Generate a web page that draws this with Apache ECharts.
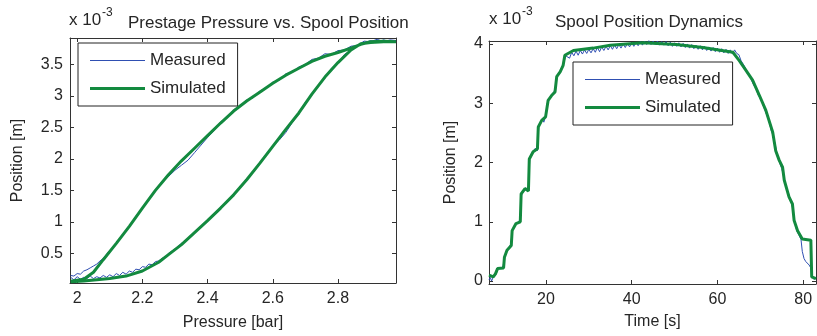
<!DOCTYPE html>
<html>
<head>
<meta charset="utf-8">
<script src="https://cdn.jsdelivr.net/npm/echarts@6/dist/echarts.min.js"></script>
<style>
  html, body { margin: 0; padding: 0; background: #fff; }
  #chart { width: 817px; height: 336px; }
</style>
</head>
<body>
<div id="chart"></div>
<script>
// Position values are in units of 1e-3 m (axis multiplier shown as "x 10^-3").

// Left panel: prestage pressure [bar] vs spool position, [pressure, position]
const loopMeasured = [
  [1.98,0.12],[1.99,0.08],[2.00,0.13],[2.01,0.09],[2.02,0.12],[2.03,0.10],[2.04,0.14],[2.05,0.10],
  [2.06,0.13],[2.07,0.11],[2.08,0.15],[2.09,0.12],[2.10,0.16],[2.11,0.13],[2.12,0.18],[2.13,0.15],
  [2.14,0.20],[2.15,0.17],[2.16,0.22],[2.17,0.20],[2.18,0.25],[2.19,0.24],[2.20,0.29],[2.21,0.28],
  [2.22,0.33],[2.23,0.32],[2.24,0.37],[2.25,0.38],[2.26,0.42],[2.27,0.44],[2.28,0.50],[2.30,0.57],
  [2.32,0.66],[2.34,0.73],[2.36,0.84],[2.38,0.92],[2.40,1.04],[2.42,1.11],[2.44,1.24],[2.46,1.31],
  [2.48,1.45],[2.50,1.54],[2.52,1.69],[2.54,1.79],[2.56,1.95],[2.58,2.05],[2.60,2.20],[2.62,2.30],
  [2.64,2.42],[2.66,2.58],[2.68,2.72],[2.70,2.90],[2.72,3.02],[2.74,3.18],[2.76,3.28],[2.78,3.44],
  [2.80,3.52],[2.82,3.66],[2.84,3.72],[2.86,3.81],[2.88,3.84],[2.90,3.88],[2.92,3.85],[2.94,3.89],
  [2.96,3.86],[2.978,3.88],
  [2.96,3.89],[2.94,3.86],[2.92,3.90],[2.90,3.86],[2.88,3.87],[2.86,3.80],[2.84,3.79],[2.82,3.73],
  [2.80,3.72],[2.78,3.66],[2.76,3.67],[2.74,3.60],[2.72,3.58],[2.70,3.50],[2.68,3.46],[2.66,3.38],
  [2.64,3.35],[2.62,3.25],[2.60,3.22],[2.58,3.12],[2.56,3.08],[2.54,2.97],[2.52,2.94],[2.50,2.83],
  [2.48,2.78],[2.46,2.65],[2.44,2.59],[2.42,2.45],[2.40,2.34],[2.38,2.22],[2.36,2.10],[2.34,1.98],
  [2.32,1.90],[2.30,1.82],[2.28,1.72],[2.26,1.64],[2.24,1.49],[2.22,1.37],[2.20,1.22],[2.18,1.09],
  [2.16,0.92],[2.14,0.80],[2.12,0.65],[2.10,0.55],[2.08,0.42],[2.07,0.38],[2.06,0.33],[2.05,0.30],
  [2.04,0.27],[2.03,0.24],[2.02,0.22],[2.01,0.17],[2.00,0.18],[1.99,0.14],[1.98,0.15]
];
const loopSimulated = [
  [1.98,0.05],[2.02,0.06],[2.06,0.08],[2.10,0.10],[2.15,0.14],[2.20,0.22],[2.25,0.36],[2.28,0.48],
  [2.32,0.64],[2.36,0.83],[2.40,1.02],[2.44,1.22],[2.48,1.43],[2.52,1.67],[2.56,1.93],[2.60,2.20],
  [2.64,2.47],[2.68,2.73],[2.72,3.03],[2.76,3.30],[2.80,3.53],[2.84,3.73],[2.87,3.83],[2.90,3.85],
  [2.94,3.86],[2.978,3.86],
  [2.94,3.87],[2.90,3.86],[2.87,3.82],[2.84,3.76],[2.80,3.69],[2.76,3.63],[2.72,3.55],[2.68,3.44],
  [2.64,3.33],[2.60,3.20],[2.56,3.06],[2.52,2.92],[2.48,2.76],[2.44,2.57],[2.40,2.37],[2.36,2.17],
  [2.32,1.97],[2.28,1.75],[2.24,1.50],[2.20,1.22],[2.16,0.93],[2.12,0.66],[2.08,0.40],[2.05,0.20],
  [2.02,0.09],[1.98,0.06]
];

// Right panel: spool position vs time [s], [time, position]
const stepMeasured = [
  [6.7,0.02],[7.0,0.06],[7.3,0.00],[7.6,0.05],[8.0,0.03],[8.4,0.12],[8.8,0.22],[9.2,0.25],[9.6,0.21],
  [10.0,0.26],[10.3,0.38],[10.6,0.47],[11.0,0.53],[11.4,0.55],[11.8,0.62],[12.1,0.84],[12.5,0.92],
  [12.9,0.96],[13.3,0.93],[13.7,1.00],[14.1,1.10],[14.3,1.45],[14.7,1.50],[15.1,1.57],[15.5,1.60],
  [15.9,1.55],[16.2,2.05],[16.6,2.15],[17.0,2.17],[17.5,2.24],[18.0,2.20],[18.3,2.60],[18.7,2.66],
  [19.1,2.73],[19.5,2.68],[19.9,2.78],[20.3,3.00],[20.7,3.08],[21.1,3.10],[21.5,3.16],[21.9,3.20],
  [22.3,3.30],[22.6,3.45],[23.0,3.48],[23.4,3.55],[23.8,3.52],[24.2,3.70],[24.6,3.80],
  [25.0,3.80],[25.5,3.76],[26.0,3.86],[26.5,3.80],[27.0,3.88],[27.5,3.81],[28.0,3.89],[28.5,3.83],
  [29.0,3.90],[29.5,3.84],[30.0,3.91],[30.5,3.85],[31.0,3.92],[31.5,3.86],[32.0,3.94],[32.5,3.87],
  [33.0,3.95],[33.5,3.89],[34.0,3.96],[34.5,3.90],[35.0,3.97],[35.5,3.91],[36.0,3.98],[36.5,3.92],
  [37.0,3.99],[37.5,3.93],[38.0,4.00],[38.5,3.94],[39.0,4.01],[39.5,3.95],[40.0,4.02],[40.5,3.96],
  [41.0,4.03],[41.5,3.97],[42.0,4.04],[42.5,3.98],[43.0,4.05],[43.5,3.99],[44.0,4.06],[44.5,3.99],
  [45.0,4.05],[45.5,3.99],[46.0,4.05],[46.5,3.98],[47.0,4.04],[47.5,3.98],[48.0,4.04],[48.5,3.97],
  [49.0,4.03],[49.5,3.96],[50.0,4.02],[50.5,3.96],[51.0,4.02],[51.5,3.95],[52.0,4.01],[52.5,3.94],
  [53.0,4.00],[53.5,3.93],[54.0,3.99],[54.5,3.92],[55.0,3.98],[55.5,3.91],[56.0,3.97],[56.5,3.90],
  [57.0,3.96],[57.5,3.89],[58.0,3.95],[58.5,3.88],[59.0,3.94],[59.5,3.87],[60.0,3.93],[60.5,3.86],
  [61.0,3.92],[61.5,3.85],[62.0,3.91],[62.5,3.84],[63.0,3.90],[63.5,3.83],[64.0,3.90],[64.5,3.84],
  [65.0,3.82],[65.5,3.72],[66.0,3.66],[66.5,3.60],[67.0,3.50],[67.5,3.48],[68.0,3.38],[68.5,3.30],
  [69.0,3.25],[69.5,3.14],[70.0,3.08],[70.5,3.00],[71.0,2.90],[71.5,2.80],[72.0,2.72],[72.5,2.55],
  [73.0,2.45],[73.5,2.30],[74.0,2.10],[74.5,2.00],[75.0,1.90],[75.5,1.75],[76.0,1.60],[76.5,1.50],
  [77.0,1.38],[77.5,1.25],[78.0,1.00],[78.5,0.85],[79.0,0.78],[79.5,0.70],[79.8,0.50],[80.2,0.38],
  [80.6,0.33],[81.0,0.30],[81.4,0.27],[81.8,0.22],[82.1,0.08],[82.5,0.03],[83.0,0.05]
];
const stepSimulated = [
  [6.7,0.10],[7.7,0.07],[8.2,0.12],[8.7,0.21],[10.1,0.22],[10.3,0.40],[10.9,0.52],[11.9,0.60],
  [12.1,0.85],[13.0,0.97],[14.0,1.00],[14.2,1.47],[15.1,1.56],[15.9,1.52],[16.1,2.06],[17.0,2.18],
  [18.0,2.23],[18.2,2.60],[19.0,2.71],[19.9,2.77],[20.5,3.05],[21.3,3.13],[22.1,3.19],[22.5,3.45],
  [23.3,3.53],[24.0,3.64],[24.4,3.81],[26.4,3.89],[31.0,3.93],[35.0,3.98],[42.6,4.02],[50.4,3.99],
  [56.6,3.94],[63.6,3.86],[65.1,3.72],[66.7,3.55],[68.2,3.39],[69.8,3.13],[71.3,2.88],[72.9,2.51],
  [73.6,2.20],[74.4,2.04],[75.2,1.92],[75.6,1.70],[76.7,1.42],[77.5,1.30],[77.9,1.02],[78.7,0.85],
  [79.8,0.71],[81.8,0.69],[82.0,0.07],[83.0,0.04]
];

// Tick labels
const pressureTicks = [2, 2.2, 2.4, 2.6, 2.8];
const loopPosTicks = [0.5, 1, 1.5, 2, 2.5, 3, 3.5];
const timeTicks = [20, 40, 60, 80];
const stepPosTicks = [0, 1, 2, 3, 4];

const seriesNames = ['Measured', 'Simulated'];
const blue = '#2f4fb2';
const green = '#138a3f';
const ink = '#262626';
const font = 'Liberation Sans, Arial, Helvetica, sans-serif';

function xPair(gridIndex, min, max, ticks, name, gap) {
  return [
    {
      type: 'value', gridIndex, position: 'bottom', min, max,
      name, nameLocation: 'middle', nameGap: gap,
      nameTextStyle: { color: ink, fontSize: 16, fontFamily: font },
      axisLine: { show: true, onZero: false, lineStyle: { color: '#333', width: 1 } },
      axisTick: { show: true, inside: true, length: 4, customValues: ticks, lineStyle: { color: '#333' } },
      axisLabel: { show: true, customValues: ticks, color: ink, fontSize: 16, fontFamily: font, margin: 8 },
      splitLine: { show: false }
    },
    {
      type: 'value', gridIndex, position: 'top', min, max,
      axisLine: { show: true, onZero: false, lineStyle: { color: '#333', width: 1 } },
      axisTick: { show: true, inside: true, length: 4, customValues: ticks, lineStyle: { color: '#333' } },
      axisLabel: { show: false },
      splitLine: { show: false }
    }
  ];
}
function yPair(gridIndex, min, max, ticks, name, gap, margin) {
  return [
    {
      type: 'value', gridIndex, position: 'left', min, max,
      name, nameLocation: 'middle', nameGap: gap,
      nameTextStyle: { color: ink, fontSize: 16, fontFamily: font },
      axisLine: { show: true, onZero: false, lineStyle: { color: '#333', width: 1 } },
      axisTick: { show: true, inside: true, length: 4, customValues: ticks, lineStyle: { color: '#333' } },
      axisLabel: { show: true, customValues: ticks, color: ink, fontSize: 16, fontFamily: font, margin },
      splitLine: { show: false }
    },
    {
      type: 'value', gridIndex, position: 'right', min, max,
      axisLine: { show: true, onZero: false, lineStyle: { color: '#333', width: 1 } },
      axisTick: { show: true, inside: true, length: 4, customValues: ticks, lineStyle: { color: '#333' } },
      axisLabel: { show: false },
      splitLine: { show: false }
    }
  ];
}

// Legend swatches: a thin and a thick horizontal stroke
const legendItems = [
  { name: seriesNames[0], icon: 'path://M0,0H55V1H0Z' },
  { name: seriesNames[1], icon: 'path://M0,0H55V3H0Z' }
];

function legendAt(left, top) {
  return {
    left, top, orient: 'vertical',
    data: legendItems,
    itemWidth: 55, itemHeight: 14, itemGap: 11,
    symbolKeepAspect: true,
    padding: [9, 12, 9, 12],
    borderColor: '#222', borderWidth: 1, borderRadius: 0,
    backgroundColor: '#fff',
    selectedMode: false,
    textStyle: { color: ink, fontSize: 17, fontFamily: font }
  };
}

function lineSeries(name, data, xi, yi, color, width, z) {
  return {
    name, type: 'line', data, xAxisIndex: xi, yAxisIndex: yi,
    symbol: 'none', showSymbol: false, smooth: false, sampling: null,
    lineStyle: { color, width }, itemStyle: { color }, z,
    emphasis: { disabled: true }
  };
}

const chart = echarts.init(document.getElementById('chart'), null, { renderer: 'canvas' });
chart.setOption({
  animation: false,
  backgroundColor: '#fff',
  textStyle: { fontFamily: font },
  title: [
    { text: 'Prestage Pressure vs. Spool Position', left: 123, top: 10,
      textStyle: { color: ink, fontSize: 17, fontWeight: 'normal', fontFamily: font } },
    { text: 'Spool Position Dynamics', left: 550, top: 9,
      textStyle: { color: ink, fontSize: 17, fontWeight: 'normal', fontFamily: font } }
  ],
  graphic: [
    { type: 'text', left: 69, top: 12, style: { text: 'x 10', fill: ink, fontSize: 17, fontFamily: font } },
    { type: 'text', left: 102, top: 7, style: { text: '-3', fill: ink, fontSize: 12, fontFamily: font } },
    { type: 'text', left: 489, top: 11, style: { text: 'x 10', fill: ink, fontSize: 17, fontFamily: font } },
    { type: 'text', left: 522, top: 6, style: { text: '-3', fill: ink, fontSize: 12, fontFamily: font } }
  ],
  legend: [legendAt(78, 43), legendAt(573, 62)],
  grid: [
    { left: 70, top: 38, width: 326, height: 248, containLabel: false },
    { left: 489, top: 41, width: 327, height: 243, containLabel: false }
  ],
  xAxis: [
    ...xPair(0, 1.978, 2.978, pressureTicks, 'Pressure [bar]', 32),
    ...xPair(1, 6.7, 83, timeTicks, 'Time [s]', 30)
  ],
  yAxis: [
    ...yPair(0, 0.03, 3.92, loopPosTicks, 'Position [m]', 44, 7),
    ...yPair(1, -0.05, 4.05, stepPosTicks, 'Position [m]', 30, 6)
  ],
  series: [
    lineSeries('Measured', loopMeasured, 0, 0, blue, 1, 2),
    lineSeries('Simulated', loopSimulated, 0, 0, green, 3, 3),
    lineSeries('Measured', stepMeasured, 2, 2, blue, 1, 2),
    lineSeries('Simulated', stepSimulated, 2, 2, green, 3, 3)
  ]
});
</script>
</body>
</html>
